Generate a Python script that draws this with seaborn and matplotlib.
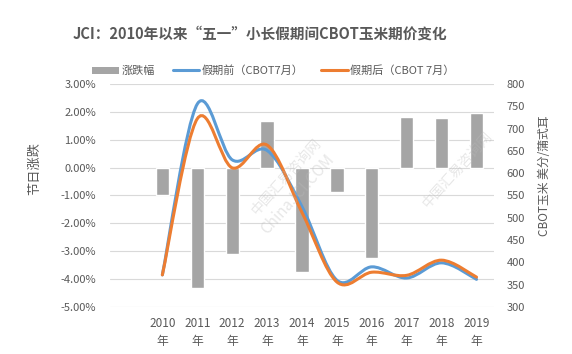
import numpy as np
import pandas as pd
import seaborn as sns
import matplotlib.pyplot as plt
from matplotlib.path import Path
from matplotlib.patches import PathPatch, Patch
from matplotlib.lines import Line2D
from matplotlib.ticker import FuncFormatter, MultipleLocator

# ==========================================
# DATA
# ==========================================
years = ["2010", "2011", "2012", "2013", "2014", "2015", "2016", "2017", "2018", "2019"]
year_labels = [y + "\n年" for y in years]
change_pct = [-1.00, -4.32, -3.10, 1.69, -3.75, -0.88, -3.24, 1.83, 1.79, 1.97]
before_price = [372, 755, 630, 651, 525, 360, 390, 365, 399, 362]
after_price = [372, 722, 612, 663, 512, 356, 378, 371, 405, 367]

GRAY_TXT = "#595959"
BAR_C = "#A5A5A5"
BLUE = "#5B9BD5"
ORANGE = "#ED7D31"

sns.set_style("white")
plt.rcParams["font.family"] = ["Noto Sans CJK SC", "DejaVu Sans"]

fig = plt.figure(figsize=(5.72, 3.54), dpi=100)
ax = fig.add_axes([0.1923, 0.1328, 0.6713, 0.6299])

df = pd.DataFrame({"year": years, "change": change_pct})
sns.barplot(data=df, x="year", y="change", color=BAR_C, width=0.38,
            saturation=1, ax=ax, zorder=2)

ax.set_xlim(-1.5, 9.5)
ax.set_ylim(-5, 3)
ax.yaxis.set_major_locator(MultipleLocator(1))
ax.yaxis.set_major_formatter(FuncFormatter(lambda v, p: f"{v:.2f}%"))
ax.grid(axis="y", color="#D9D9D9", lw=0.8, zorder=0)
ax.set_axisbelow(True)
ax.set_xticks(range(len(years)))
ax.set_xticklabels(year_labels, fontsize=8.5, color=GRAY_TXT, linespacing=1.55)
ax.tick_params(axis="y", labelsize=8, labelcolor=GRAY_TXT, length=0, pad=10)
ax.tick_params(axis="x", length=0, pad=7)
ax.set_xlabel("")
ax.set_ylabel("节日涨跌", fontsize=9.5, color=GRAY_TXT)
ax.yaxis.set_label_coords(-0.18, 0.62)
for s in ax.spines.values():
    s.set_visible(False)

# ==========================================
# SMOOTH LINES (Excel-like Catmull-Rom bezier)
# ==========================================
ax2 = ax.twinx()
ax2.set_ylim(300, 800)
ax2.yaxis.set_major_locator(MultipleLocator(50))
ax2.tick_params(axis="y", labelsize=8, labelcolor=GRAY_TXT, length=0, pad=9)
ax2.set_ylabel("CBOT玉米 美分/蒲式耳", fontsize=8.5, color=GRAY_TXT, rotation=90)
ax2.yaxis.set_label_coords(1.115, 0.59)
for s in ax2.spines.values():
    s.set_visible(False)


def smooth_path(xs, ys):
    pts = np.column_stack([xs, ys]).astype(float)
    verts = [pts[0]]
    codes = [Path.MOVETO]
    n = len(pts)
    for i in range(n - 1):
        p0 = pts[i - 1] if i > 0 else pts[i]
        p1 = pts[i]
        p2 = pts[i + 1]
        p3 = pts[i + 2] if i + 2 < n else pts[i + 1]
        c1 = p1 + (p2 - p0) / 6
        c2 = p2 - (p3 - p1) / 6
        verts += [c1, c2, p2]
        codes += [Path.CURVE4] * 3
    return Path(verts, codes)


xs = np.arange(len(years))
ax2.add_patch(PathPatch(smooth_path(xs, before_price), fill=False,
                        ec=BLUE, lw=2.2, capstyle="round", zorder=3))
ax2.add_patch(PathPatch(smooth_path(xs, after_price), fill=False,
                        ec=ORANGE, lw=2.2, capstyle="round", zorder=4))
ax2.set_xlim(-1.5, 9.5)

# watermark
fig.text(0.50, 0.50, "中国汇易咨询网", fontsize=10, color="#BBBBBB", alpha=0.35,
         rotation=48, ha="center", va="center")
fig.text(0.52, 0.45, "ChinaJCI.COM", fontsize=11, color="#BBBBBB", alpha=0.35,
         rotation=48, ha="center", va="center")
fig.text(0.80, 0.52, "中国汇易咨询网", fontsize=10, color="#BBBBBB", alpha=0.35,
         rotation=48, ha="center", va="center")

# ==========================================
# TITLE + LEGEND
# ==========================================
fig.text(0.454, 0.905, "JCI：2010年以来“五一”小长假期间CBOT玉米期价变化",
         fontsize=10.5, fontweight="bold", color=GRAY_TXT,
         ha="center", va="center")

handles = [
    Patch(facecolor=BAR_C, edgecolor="none"),
    Line2D([0], [0], color=BLUE, lw=2.2),
    Line2D([0], [0], color=ORANGE, lw=2.2),
]
labels = ["涨跌幅", "假期前（CBOT7月）", "假期后（CBOT 7月）"]
leg = fig.legend(handles, labels, loc="center", bbox_to_anchor=(0.478, 0.80),
                 ncol=3, frameon=False, fontsize=8, handlelength=2.4,
                 handleheight=0.6, handletextpad=0.2, columnspacing=1.6)
for t in leg.get_texts():
    t.set_color(GRAY_TXT)

plt.savefig("out.png", dpi=100)
